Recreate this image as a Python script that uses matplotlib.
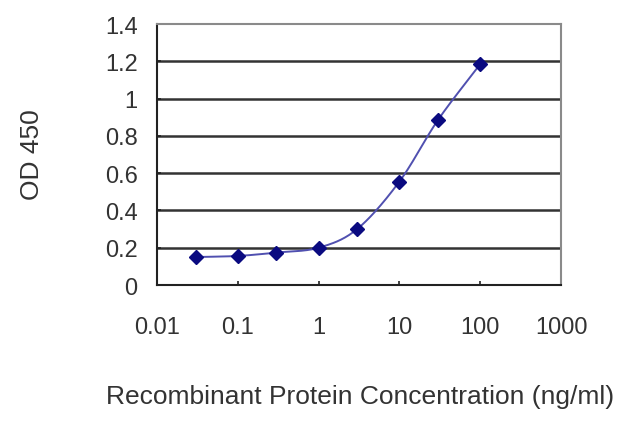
import numpy as np
import matplotlib
matplotlib.use("Agg")
import matplotlib.pyplot as plt
from matplotlib.ticker import FixedLocator, FixedFormatter, NullLocator
from matplotlib import font_manager

# Data
concentration = [0.03, 0.1, 0.3, 1, 3, 10, 30, 100]
od450 = [0.15, 0.156, 0.174, 0.20, 0.30, 0.555, 0.885, 1.185]
x_ticks = [0.01, 0.1, 1, 10, 100, 1000]
x_tick_labels = ["0.01", "0.1", "1", "10", "100", "1000"]
y_ticks = [0, 0.2, 0.4, 0.6, 0.8, 1.0, 1.2, 1.4]
y_tick_labels = ["0", "0.2", "0.4", "0.6", "0.8", "1", "1.2", "1.4"]

names = {f.name for f in font_manager.fontManager.ttflist}
narrow = 'Liberation Sans Narrow' if 'Liberation Sans Narrow' in names else 'Liberation Sans'
plt.rcParams['font.family'] = ['Liberation Sans', 'DejaVu Sans']

fig = plt.figure(figsize=(6.4, 4.27), dpi=100)
ax = fig.add_axes([0.2453, 0.3302, 0.6313, 0.6112])
ax.set_xscale('log')
ax.set_xlim(0.01, 1000)
ax.set_ylim(0, 1.4)

# Smooth line (Catmull-Rom in log-x space, like a spreadsheet smoothed line)
lx = np.log10(concentration)
yy = np.array(od450)
P = np.column_stack([lx, yy])
Pext = np.vstack([P[0] - (P[1] - P[0]), P, P[-1] + (P[-1] - P[-2])])
pts = []
for i in range(1, len(Pext) - 2):
    p0, p1, p2, p3 = Pext[i - 1], Pext[i], Pext[i + 1], Pext[i + 2]
    t = np.linspace(0, 1, 30)[:, None]
    seg = 0.5 * ((2 * p1) + (-p0 + p2) * t + (2 * p0 - 5 * p1 + 4 * p2 - p3) * t ** 2
                 + (-p0 + 3 * p1 - 3 * p2 + p3) * t ** 3)
    pts.append(seg)
curve = np.vstack(pts)
ax.plot(10 ** curve[:, 0], curve[:, 1], color='#5050b0', lw=1.4, zorder=3)
ax.plot(concentration, od450, linestyle='none', marker='D', markersize=7,
        color='#0a0a80', zorder=4)

# Grid
for y in y_ticks[1:-1]:
    ax.axhline(y, color='#333333', lw=1.8, zorder=1)

for s in ['top', 'right']:
    ax.spines[s].set_color('#8a8a8a')
    ax.spines[s].set_linewidth(1.5)
for s in ['left', 'bottom']:
    ax.spines[s].set_color('#222222')
    ax.spines[s].set_linewidth(1.5)

ax.xaxis.set_major_locator(FixedLocator(x_ticks))
ax.xaxis.set_major_formatter(FixedFormatter(x_tick_labels))
ax.xaxis.set_minor_locator(NullLocator())
ax.yaxis.set_major_locator(FixedLocator(y_ticks))
ax.yaxis.set_major_formatter(FixedFormatter(y_tick_labels))

ax.tick_params(axis='x', direction='in', length=3, width=1.2, color='#222222',
               labelsize=17, pad=22, labelcolor='#333333')
ax.tick_params(axis='y', direction='in', length=3, width=1.2, color='#222222',
               labelsize=17, pad=14, labelcolor='#333333')
for lab in ax.get_xticklabels() + ax.get_yticklabels():
    lab.set_family([narrow, 'DejaVu Sans'])

fig.text(0.5625, 1 - 397 / 427, "Recombinant Protein Concentration (ng/ml)",
         ha='center', va='center', fontsize=19, color='#333333')
fig.text(32 / 640, 1 - 155 / 427, "OD 450", rotation=90,
         ha='center', va='center', fontsize=19, color='#333333')

fig.savefig("out.png", dpi=100)
